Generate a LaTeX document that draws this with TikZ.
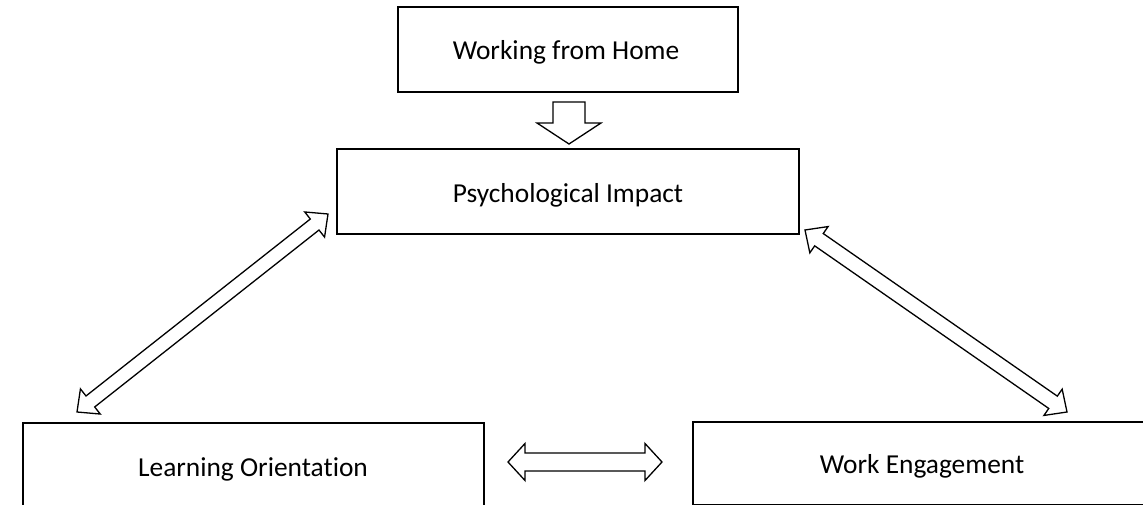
\documentclass[tikz,border=0pt]{standalone}
\usepackage{fontspec}
\setmainfont{Carlito}[Ligatures={NoCommon,NoRare,NoContextual}]
\usetikzlibrary{calc}
\tikzset{
  box/.style={draw=black, line width=2pt, fill=white, inner sep=0pt, outer sep=0pt, anchor=north west},
  lbl/.style={inner sep=0pt, anchor=base, font=\fontsize{27.4}{33}\selectfont},
  blockarrow/.style={draw=black, line width=1.3pt, fill=white, line join=miter}
}
\newcommand\dblarrow[5]{%
  \draw[blockarrow] (#1) -- ($(#1)!#3!(#2)!#4!90:(#2)$) -- ($(#1)!#3!(#2)!#5!90:(#2)$)
    -- ($(#2)!#3!(#1)!#5!-90:(#1)$) -- ($(#2)!#3!(#1)!#4!-90:(#1)$) -- (#2)
    -- ($(#2)!#3!(#1)!#4!90:(#1)$) -- ($(#2)!#3!(#1)!#5!90:(#1)$)
    -- ($(#1)!#3!(#2)!#5!-90:(#2)$) -- ($(#1)!#3!(#2)!#4!-90:(#2)$) -- cycle;}
\newcommand\sglarrow[5]{%
  \draw[blockarrow] (#2) -- ($(#2)!#3!(#1)!#4!90:(#1)$) -- ($(#2)!#3!(#1)!#5!90:(#1)$)
    -- ($(#1)!#5!-90:(#2)$) -- ($(#1)!#5!90:(#2)$)
    -- ($(#2)!#3!(#1)!#5!-90:(#1)$) -- ($(#2)!#3!(#1)!#4!-90:(#1)$) -- cycle;}
\begin{document}
\begin{tikzpicture}[x=1pt, y=-1pt]
  \useasboundingbox (0,0) rectangle (1143,505);
  \clip (0,0) rectangle (1143,505);
  % boxes
  \node[box, minimum width=340pt, minimum height=85pt] (wfh) at (398,7) {};
  \node[box, minimum width=462pt, minimum height=85pt] (psy) at (337,149) {};
  \node[box, minimum width=461pt, minimum height=100pt] (lrn) at (23,423) {};
  \node[box, minimum width=470pt, minimum height=82.5pt] (eng) at (693,422) {};
  % labels
  \node[lbl] (wfht) at (566,60) {Working from Home};
  \node[lbl] (psyt) at (568,203) {Psychological Impact};
  \node[lbl] (lrnt) at (253,476) {Learning Orientation};
  \node[lbl] (engt) at (922,473) {Work Engagement};
  % arrow end points
  \coordinate (wfh-out) at (569,102);
  \coordinate (psy-in) at (569,144);
  \coordinate (psy-l) at (328,214);
  \coordinate (lrn-t) at (77,412);
  \coordinate (psy-r) at (805,230);
  \coordinate (eng-t) at (1067,412);
  \coordinate (lrn-r) at (508,462);
  \coordinate (eng-l) at (662,462);
  % arrows
  \sglarrow{wfh-out}{psy-in}{21pt}{32pt}{16pt}
  \dblarrow{lrn-t}{psy-l}{17pt}{16pt}{7pt}
  \dblarrow{psy-r}{eng-t}{17pt}{16pt}{7.5pt}
  \dblarrow{lrn-r}{eng-l}{17pt}{18.5pt}{9pt}
\end{tikzpicture}
\end{document}
